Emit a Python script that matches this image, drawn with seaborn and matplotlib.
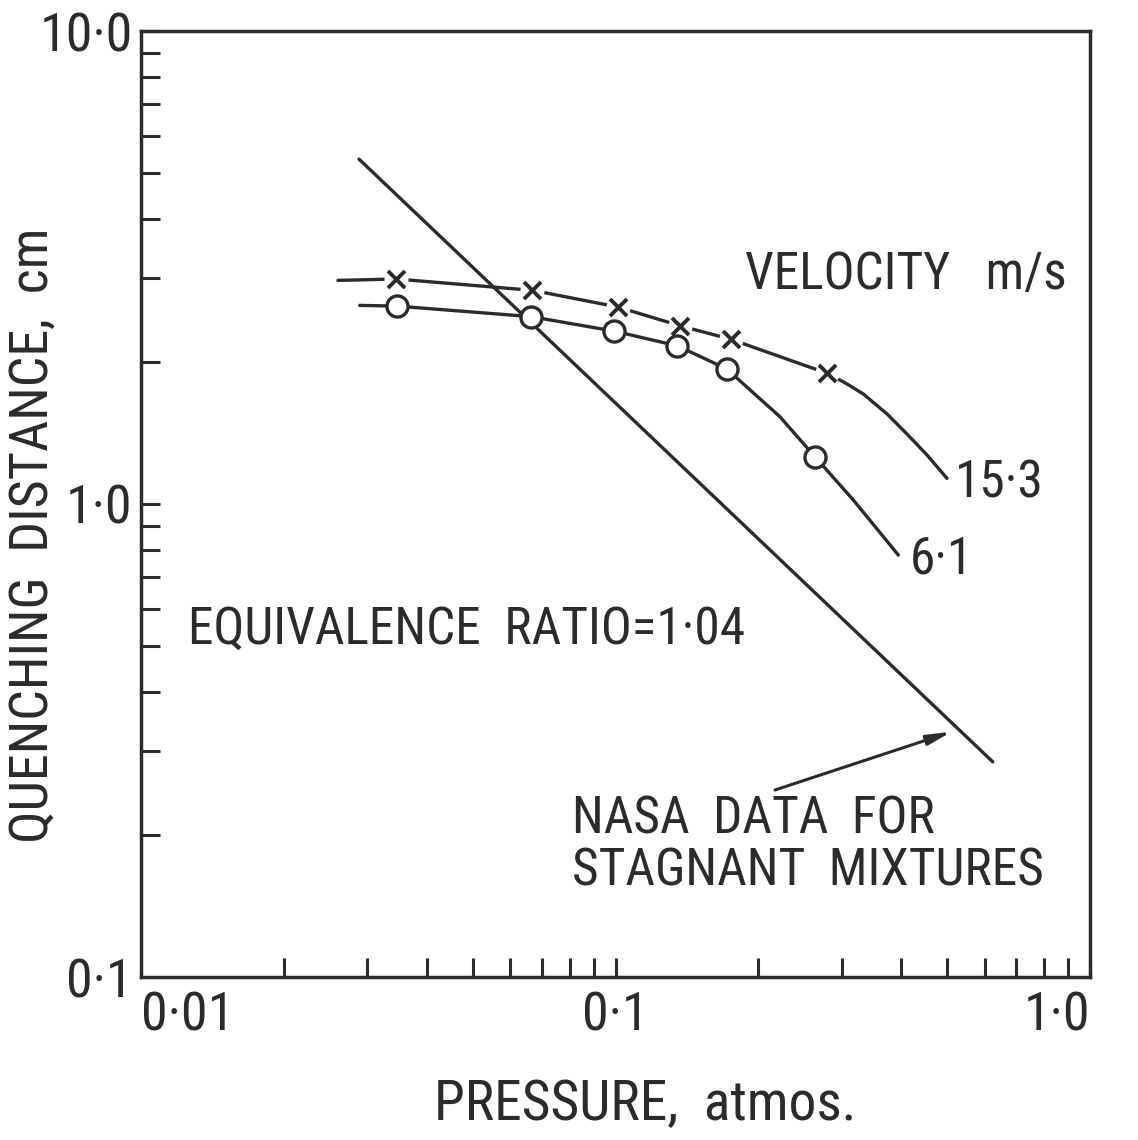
import matplotlib
matplotlib.use("Agg")
import matplotlib.pyplot as plt
from matplotlib import font_manager
from matplotlib.ticker import FixedLocator, FixedFormatter, NullFormatter
import seaborn as sns
import pandas as pd

# ---- data -------------------------------------------------------------
# velocity 15.3 m/s (crosses)
p_153_marks = [0.0345, 0.0668, 0.101, 0.137, 0.175, 0.279]
d_153_marks = [2.99, 2.83, 2.61, 2.38, 2.23, 1.89]
p_153_curve = [0.0260, 0.0345, 0.0668, 0.101, 0.137, 0.175, 0.279,
               0.305, 0.333, 0.3735, 0.4115, 0.4535, 0.4996]
d_153_curve = [2.97, 2.99, 2.83, 2.61, 2.38, 2.23, 1.89,
               1.803, 1.708, 1.550, 1.406, 1.269, 1.133]

# velocity 6.1 m/s (open circles)
p_61_marks = [0.0347, 0.0663, 0.0994, 0.135, 0.1715, 0.263]
d_61_marks = [2.62, 2.49, 2.32, 2.16, 1.93, 1.26]
p_61_curve = [0.0289, 0.0347, 0.0663, 0.0994, 0.135, 0.1715,
              0.222, 0.263, 0.317, 0.3945]
d_61_curve = [2.63, 2.62, 2.49, 2.32, 2.16, 1.93,
              1.53, 1.26, 1.02, 0.780]

# NASA data for stagnant mixtures
p_nasa = [0.0288, 0.624]
d_nasa = [5.36, 0.285]

x_ticks = [m * 10.0 ** e for e in (-2, -1) for m in range(2, 11)]
y_ticks = [m * 10.0 ** e for e in (-1, 0) for m in range(2, 11)]
x_tick_labels = ["0·01", "0·1", "1·0"]
y_tick_labels = ["0·1", "1·0", "10·0"]
# -----------------------------------------------------------------------

sns.set_theme(style="white")


def pick_font():
    fonts = font_manager.fontManager.ttflist
    names = {f.name for f in fonts}
    for name in ("Liberation Sans Narrow", "Arial Narrow", "Roboto Condensed",
                 "Open Sans Condensed", "Noto Sans Condensed", "DejaVu Sans Condensed"):
        if name in names:
            return name, "normal"
    for f in fonts:
        if ("Narrow" in f.name or "Condensed" in f.name) and "CJK" not in f.name:
            return f.name, "normal"
    for f in fonts:
        st = f.stretch
        if isinstance(st, str) and "condensed" in st and "CJK" not in f.name:
            return f.name, st
        if isinstance(st, int) and st < 500 and "CJK" not in f.name:
            return f.name, st
    return "Liberation Sans", "normal"


FONT, STRETCH = pick_font()
narrow = FONT != "Liberation Sans"
plt.rcParams["font.family"] = [FONT, "DejaVu Sans"]
plt.rcParams["font.stretch"] = STRETCH

INK = "#2b2b2b"
W, H = 1138, 1140
fig = plt.figure(figsize=(W / 100, H / 100), dpi=100, facecolor="white")
ax = fig.add_axes([141 / W, 1 - 977 / H, (1090 - 141) / W, (977 - 31) / H])
ax.set_facecolor("white")

lw = 2.4
curves = pd.concat([
    pd.DataFrame({"p": p_153_curve, "d": d_153_curve, "v": "15·3"}),
    pd.DataFrame({"p": p_61_curve, "d": d_61_curve, "v": "6·1"}),
    pd.DataFrame({"p": p_nasa, "d": d_nasa, "v": "NASA"}),
])
sns.lineplot(data=curves, x="p", y="d", units="v", estimator=None, sort=False,
             color=INK, lw=lw, ax=ax, legend=False)

# white discs break the line around each cross
sns.scatterplot(x=p_153_marks, y=d_153_marks, marker="o", s=300, color="white",
                linewidth=0, ax=ax, zorder=3)
sns.scatterplot(x=p_153_marks, y=d_153_marks, marker="x", s=150, color=INK,
                linewidth=2.8, ax=ax, zorder=4)
sns.scatterplot(x=p_61_marks, y=d_61_marks, marker="o", s=230, facecolor="white",
                edgecolor=INK, linewidth=2.4, ax=ax, zorder=4)

ax.set_xscale("log")
ax.set_yscale("log")
ax.set_xlim(0.01, 1.0)
ax.set_ylim(0.1, 10.0)

# ticks inside the bottom and left edges, labels only at the decades
ax.xaxis.set_major_locator(FixedLocator([0.01, 0.1, 1.0]))
ax.xaxis.set_major_formatter(FixedFormatter(x_tick_labels))
ax.xaxis.set_minor_locator(FixedLocator(x_ticks))
ax.xaxis.set_minor_formatter(NullFormatter())
ax.yaxis.set_major_locator(FixedLocator([0.1, 1.0, 10.0]))
ax.yaxis.set_major_formatter(FixedFormatter(y_tick_labels))
ax.yaxis.set_minor_locator(FixedLocator(y_ticks))
ax.yaxis.set_minor_formatter(NullFormatter())
ax.xaxis.remove_overlapping_locs = False
ax.yaxis.remove_overlapping_locs = False
ax.tick_params(which="minor", direction="in", length=14, width=2.2, color=INK,
               bottom=True, left=True, top=False, right=False)
tick_fs = 39 if narrow else 34
ax.tick_params(which="major", length=0, labelsize=tick_fs, labelcolor=INK, pad=10)
ax.tick_params(axis="y", which="major", pad=6)
xl = ax.get_xticklabels()
xl[0].set_ha("left")
xl[-1].set_ha("right")

for s in ax.spines.values():
    s.set_color(INK)
    s.set_linewidth(2.5)

ax.set_xlabel("")
ax.set_ylabel("")
big = 40 if narrow else 36
txt = 37 if narrow else 33
fig.text(645 / W, 1 - 1105 / H, "PRESSURE,  atmos.", ha="center", va="center",
         fontsize=big, color=INK)
fig.text(33 / W, 1 - 535 / H, "QUENCHING  DISTANCE,  cm", ha="center", va="center",
         rotation=90, fontsize=big - 1, color=INK)


def ftext(x, y, s, **kw):
    fig.text(x / W, 1 - y / H, s, va="center", fontsize=txt, color=INK, **kw)


ftext(745, 275, "VELOCITY   m/s")
ftext(955, 483, "15·3")
ftext(910, 560, "6·1")
ftext(188, 630, "EQUIVALENCE  RATIO=1·04")
ftext(572, 820, "NASA  DATA  FOR")
ftext(572, 872, "STAGNANT  MIXTURES")

ax.annotate("", xy=(0.511, 0.330), xytext=(0.2168, 0.2485),
            arrowprops=dict(arrowstyle="-|>,head_length=1.2,head_width=0.25",
                            color=INK, lw=2.2, shrinkA=0, shrinkB=0))

fig.savefig("out.png", dpi=100, facecolor="white")
